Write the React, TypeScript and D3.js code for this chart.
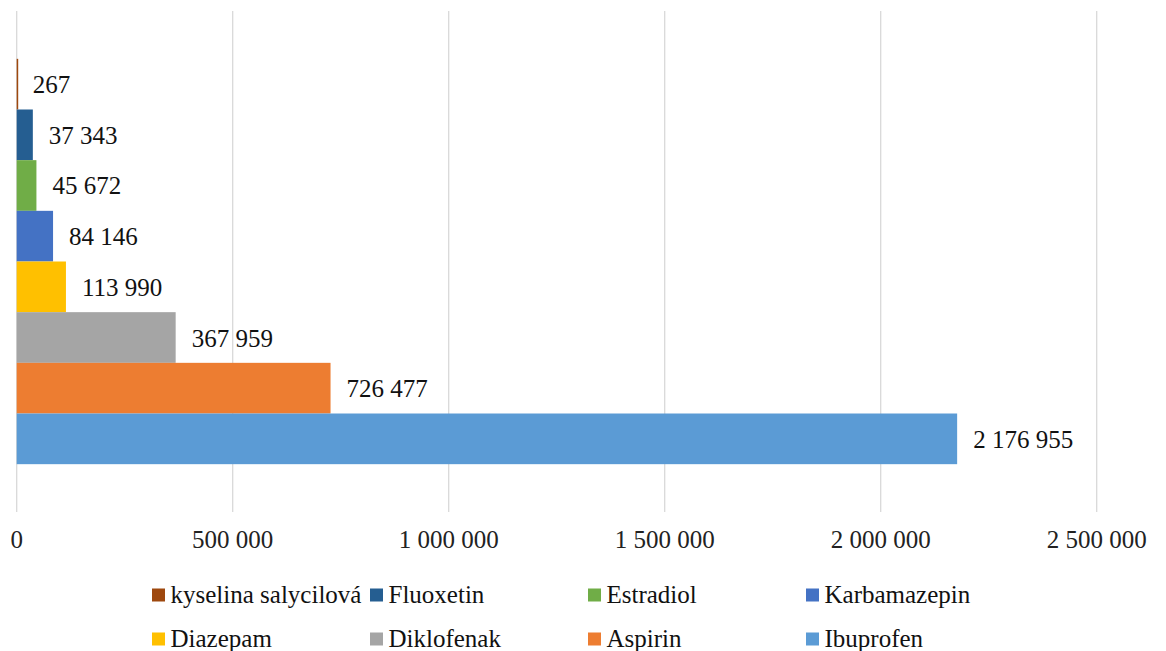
import React from 'react';
import * as d3 from 'd3';

// series in drawing order (top to bottom), same order as the legend
const drugs = ['kyselina salycilová', 'Fluoxetin', 'Estradiol', 'Karbamazepin', 'Diazepam', 'Diklofenak', 'Aspirin', 'Ibuprofen'];
const amounts = [267, 37343, 45672, 84146, 113990, 367959, 726477, 2176955];
const colors = ['#9E480E', '#255E91', '#70AD47', '#4472C4', '#FFC000', '#A5A5A5', '#ED7D31', '#5B9BD5'];
const xTicks = [0, 500000, 1000000, 1500000, 2000000, 2500000];

const W = 1166;
const H = 651;
const FONT = "'Liberation Serif'";

const locale = d3.formatLocale({ decimal: ',', thousands: ' ', grouping: [3], currency: ['', ''] });
const fmt = locale.format(',d');

const App = () => {
  const x = d3.scaleLinear().domain([0, 2500000]).range([16.7, 1096.7]);
  const y = d3.scaleBand<string>()
    .domain(drugs)
    .range([11, 512])
    .paddingInner(0)
    .paddingOuter(0.944);

  const txt = { fontFamily: FONT, fontSize: 25 };

  return (
    <svg width={W} height={H} style={{ position: 'absolute', left: 0, top: 0, background: '#fff' }}>
      {/* gridlines */}
      <g>
        {xTicks.map((t) => (
          <line key={t} x1={x(t)} x2={x(t)} y1={11} y2={512} stroke="#D9D9D9" strokeWidth={1.3} />
        ))}
      </g>

      {/* tick labels */}
      <g>
        {xTicks.map((t) => (
          <text key={t} x={x(t)} y={548} textAnchor="middle" fill="#222" style={txt}>
            {fmt(t)}
          </text>
        ))}
      </g>

      {/* bars */}
      <g>
        {drugs.map((d, i) => (
          <rect
            key={d}
            x={x(0)}
            y={y(d)}
            width={Math.max(1.5, x(amounts[i]) - x(0))}
            height={y.bandwidth()}
            fill={colors[i]}
          />
        ))}
      </g>

      {/* value labels */}
      <g>
        {drugs.map((d, i) => (
          <text key={d} x={x(amounts[i]) + 16} y={y(d)! + y.bandwidth() / 2 + 9} fill="#111" style={txt}>
            {fmt(amounts[i])}
          </text>
        ))}
      </g>

      {/* legend */}
      <g>
        {drugs.map((d, i) => (
          <g key={d} transform={`translate(${152 + (i % 4) * 218}, ${i < 4 ? 603 : 647})`}>
            <rect x={0} y={-14.5} width={13} height={13} fill={colors[i]} />
            <text x={18.5} y={0} fill="#111" style={txt}>
              {d}
            </text>
          </g>
        ))}
      </g>
    </svg>
  );
};

export default App;
